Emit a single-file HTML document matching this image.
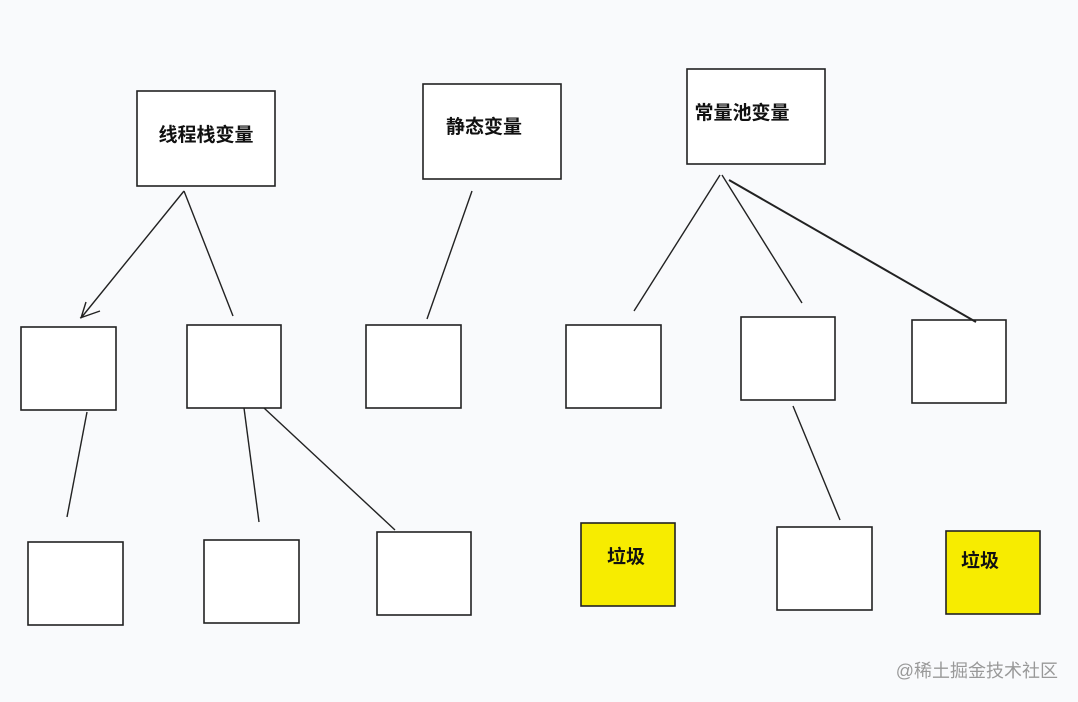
<!DOCTYPE html>
<html><head><meta charset="utf-8"><style>
html,body{margin:0;padding:0;background:#f9fafc;width:1078px;height:702px;overflow:hidden}
svg{display:block}
text{font-family:"Liberation Sans","Noto Sans CJK SC",sans-serif}
</style></head><body>
<svg width="1078" height="702" viewBox="0 0 1078 702">
<rect width="1078" height="702" fill="#f9fafc"/>
<g fill="#fff" stroke="#222" stroke-width="1.6">
<rect x="137" y="91" width="138" height="95"/>
<rect x="423" y="84" width="138" height="95"/>
<rect x="687" y="69" width="138" height="95"/>
<rect x="21" y="327" width="95" height="83"/>
<rect x="187" y="325" width="94" height="83"/>
<rect x="366" y="325" width="95" height="83"/>
<rect x="566" y="325" width="95" height="83"/>
<rect x="741" y="317" width="94" height="83"/>
<rect x="912" y="320" width="94" height="83"/>
<rect x="28" y="542" width="95" height="83"/>
<rect x="204" y="540" width="95" height="83"/>
<rect x="377" y="532" width="94" height="83"/>
<rect x="581" y="523" width="94" height="83" fill="#f7ec00"/>
<rect x="777" y="527" width="95" height="83"/>
<rect x="946" y="531" width="94" height="83" fill="#f7ec00"/>
</g>
<g stroke="#222" stroke-width="1.4" fill="none">
<path d="M184 191 L81 318 M80 318 L100 311 M81 318 L86 302"/>
<path d="M184 191 L233 316"/>
<path d="M472 191 L427 319"/>
<path d="M720 175 L634 311"/>
<path d="M722 175 L802 303"/>
<path d="M729 180 L976 322" stroke-width="2"/>
<path d="M87 412 L67 517"/>
<path d="M244 408 L259 522"/>
<path d="M264 408 L395 530"/>
<path d="M793 406 L840 520"/>
</g>
<g font-size="19" font-weight="bold" fill="#111" text-anchor="middle">
<text x="206" y="141">线程栈变量</text>
<text x="484" y="133">静态变量</text>
<text x="742" y="119">常量池变量</text>
<text x="626" y="563">垃圾</text>
<text x="980" y="567">垃圾</text>
</g>
<text x="1058" y="677" font-size="18" fill="#999" text-anchor="end">@稀土掘金技术社区</text>
</svg>
</body></html>
